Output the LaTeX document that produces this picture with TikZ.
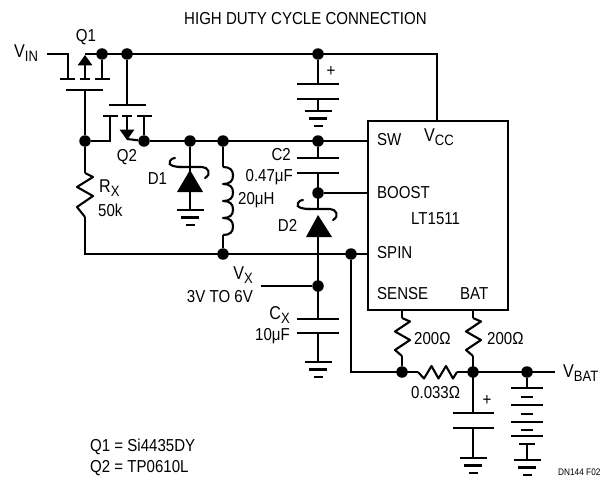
\documentclass[tikz,border=0pt]{standalone}
\usepackage{fontspec}
\setmainfont[FakeStretch=0.87]{Liberation Sans}
\usetikzlibrary{calc}
\tikzset{
  wire/.style={line width=2.1pt,line cap=butt,line join=miter},
  junction/.style={circle,fill=black,inner sep=0pt,minimum size=11.5pt},
  pt/.style={inner sep=0pt,minimum size=0pt},
  lbl/.style={inner sep=0pt,font=\fontsize{17.3}{17.3}\selectfont},
  lleft/.style={lbl,anchor=west},
  lright/.style={lbl,anchor=east},
  tiphead/.style={fill=black,draw=none}
}
\newcommand{\subs}[2]{\fontsize{18.5}{18.5}\selectfont #1\raisebox{-4pt}{\fontsize{15}{15}\selectfont #2}}
\newcommand{\vres}[1]{\draw[wire,line join=round] (#1) -- ++(8,3.5) -- ++(-15,10) -- ++(15,8.5) -- ++(-15,10) -- ++(7,6);}
\newcommand{\gnd}[1]{%
  \draw[wire] ($(#1)+(-13.5,0)$) -- ($(#1)+(13.5,0)$);
  \draw[wire] ($(#1)+(-9,7.5)$) -- ($(#1)+(9,7.5)$);
  \draw[wire] ($(#1)+(-4.5,15)$) -- ($(#1)+(4.5,15)$);}
\newcommand{\cathode}[1]{%
  \draw[wire,line cap=round] ($(#1)+(-8,7)$) .. controls ($(#1)+(-14,7)$) and ($(#1)+(-23,6)$) .. ($(#1)+(-20,1)$) .. controls ($(#1)+(-19,-1)$) and ($(#1)+(-17,-2)$) .. ($(#1)+(-15,-2)$);
  \draw[wire,line cap=round] ($(#1)+(-12,7)$) -- ($(#1)+(12,7)$) .. controls ($(#1)+(18,7)$) and ($(#1)+(22,14)$) .. ($(#1)+(15,18)$);}
\begin{document}
\begin{tikzpicture}[x=1pt,y=-1pt]
\useasboundingbox (0,0) rectangle (609,476);
% junctions
\node[junction] (j1) at (102,54) {};
\node[junction] (j2) at (127,54) {};
\node[junction] (j3) at (318,54) {};
\node[junction] (j4) at (85,141) {};
\node[junction] (j5) at (144,141) {};
\node[junction] (j6) at (190,141) {};
\node[junction] (j7) at (223,141) {};
\node[junction] (j8) at (318,141) {};
\node[junction] (j9) at (318,193) {};
\node[junction] (j10) at (223,254) {};
\node[junction] (j11) at (351,254) {};
\node[junction] (j12) at (318,286) {};
\node[junction] (j13) at (402,372) {};
\node[junction] (j14) at (473,372) {};
\node[junction] (j15) at (527,372) {};
% IC
\node[draw,line width=2.1pt,pt,minimum width=140pt,minimum height=189pt,anchor=north west] (ic) at (367,120) {};
% free coordinates
\coordinate (vin) at (47,54);
\coordinate (qa) at (68,54);
\coordinate (qb) at (68,79);
\coordinate (q1t) at (85,54);
\coordinate (q1g) at (85,90);
\coordinate (q1d) at (102,79);
\coordinate (q2g) at (127,105);
\coordinate (q2l) at (110,116);
\coordinate (q2lb) at (110,141);
\coordinate (q2r) at (144,116);
\coordinate (vcc) at (437,54);
\coordinate (vccb) at (437,120);
\coordinate (swr) at (367,141);
\coordinate (boostr) at (367,193);
\coordinate (spinr) at (367,254);
\coordinate (rxb) at (85,254);
\coordinate (rxzt) at (85,173);
\coordinate (rxzb) at (85,217);
\coordinate (c1a) at (318,84);
\coordinate (c1b) at (318,99);
\coordinate (c1g) at (318,111);
\coordinate (d1g) at (190,210);
\coordinate (lt) at (223,167);
\coordinate (lb) at (223,235);
\coordinate (c2a) at (318,158);
\coordinate (c2b) at (318,173);
\coordinate (d2k) at (318,209);
\coordinate (d2a) at (318,237);
\coordinate (cxa) at (318,319);
\coordinate (cxb) at (318,333);
\coordinate (cxg) at (318,362);
\coordinate (vx) at (261,286);
\coordinate (ssb) at (351,372);
\coordinate (senset) at (402,309);
\coordinate (senz) at (402,318);
\coordinate (senzb) at (402,356);
\coordinate (batt) at (473,309);
\coordinate (batz) at (473,318);
\coordinate (batzb) at (473,356);
\coordinate (rsa) at (418,372);
\coordinate (rsb) at (457,372);
\coordinate (vbat) at (555,372);
\coordinate (c3a) at (473,413);
\coordinate (c3b) at (473,428);
\coordinate (c3g) at (473,458);
\coordinate (bt) at (527,388);
\coordinate (bb) at (527,444);
\coordinate (bg) at (527,460);
% wires
\draw[wire] (vin) -- (qa) -- (qb);
\draw[wire] (q1t) -- (vcc) -- (vccb);
\draw[wire] (j1) -- (q1d);
\draw[wire] (j2) -- (q2g);
\draw[wire] (j3) -- (c1a);
\draw[wire] (c1b) -- (c1g);
\draw[wire] (q1g) -- (j4) -- (rxzt);
\draw[wire] (rxzb) -- (rxb) -- (spinr);
\draw[wire] (j4) -- (q2lb) -- (q2l);
\draw[wire] (q2r) -- (j5) -- (swr);
\draw[wire] (127,139) -- (j5);
\draw[wire] (j6) -- (d1g);
\draw[wire] (j7) -- (lt);
\draw[wire] (lb) -- (j10);
\draw[wire] (j8) -- (c2a);
\draw[wire] (c2b) -- (d2k);
\draw[wire] (j9) -- (boostr);
\draw[wire] (d2a) -- (cxa);
\draw[wire] (cxb) -- (cxg);
\draw[wire] (vx) -- (j12);
\draw[wire] (j11) |- (ssb) -- (rsa);
\draw[wire] (rsb) -- (vbat);
\draw[wire] (senset) -- (senz);
\draw[wire] (senzb) -- (j13);
\draw[wire] (batt) -- (batz);
\draw[wire] (batzb) -- (c3a);
\draw[wire] (c3b) -- (c3g);
\draw[wire] (j15) -- (bt);
\draw[wire] (bb) -- (bg);
% Q1
\draw[wire] (60,79) -- (75,79);
\draw[wire] (80,79) -- (90,79);
\draw[wire] (95,79) -- (110,79);
\draw[wire] (66,90) -- (103,90);
\draw[wire] (85,79) -- (85,60);
\fill[tiphead] (85,55) -- (92.5,65.5) -- (77.5,65.5) -- cycle;
% Q2
\draw[wire] (109,105) -- (146,105);
\draw[wire] (103,116) -- (118,116);
\draw[wire] (122,116) -- (132,116);
\draw[wire] (137,116) -- (152,116);
\draw[wire] (127,116) -- (127,132);
\fill[tiphead] (127,140) -- (134.5,129.5) -- (119.5,129.5) -- cycle;
% D1
\fill[tiphead] (190,170) -- (203,192) -- (177,192) -- cycle;
\cathode{190,160}
\gnd{d1g}
% Inductor
\draw[wire,line join=round] (lt)
  .. controls (230,167) and (233,170) .. (233,175.5) .. controls (233,181) and (230,184) .. (223,184)
  .. controls (230,184) and (233,187) .. (233,192.5) .. controls (233,198) and (230,201) .. (223,201)
  .. controls (230,201) and (233,204) .. (233,209.5) .. controls (233,215) and (230,218) .. (223,218)
  .. controls (230,218) and (233,221) .. (233,226.5) .. controls (233,232) and (230,235) .. (lb);
% C2
\draw[wire] (297,158) -- (339,158);
\draw[wire] (297,173) -- (339,173);
% D2
\fill[tiphead] (318,215) -- (332,237) -- (306,237) -- cycle;
\cathode{318,202}
% Cx
\draw[wire] (297,319) -- (339,319);
\draw[wire] (297,333) -- (339,333);
\gnd{cxg}
% C1 top
\draw[wire] (297,84) -- (339,84);
\draw[wire] (297,99) -- (339,99);
\gnd{c1g}
% resistors
\draw[wire,line join=round] (rxzt) -- ++(8,4) -- ++(-16,10) -- ++(16,9) -- ++(-16,11) -- (rxzb);
\vres{senz}
\vres{batz}
\draw[wire,line join=round] (rsa) -- ++(6,6.5) -- ++(7.5,-12.5) -- ++(7,12.5) -- ++(7.5,-12.5) -- ++(7,12.5) -- (rsb);
% C3
\draw[wire] (453,413) -- (494,413);
\draw[wire] (453,428) -- (494,428);
\gnd{c3g}
% Battery
\draw[wire] (511,388) -- (543,388);
\draw[wire] (521,397) -- (533,397);
\draw[wire] (511,405) -- (543,405);
\draw[wire] (521,414) -- (533,414);
\draw[wire] (511,422) -- (543,422);
\draw[wire] (521,430) -- (533,430);
\draw[wire] (511,436) -- (543,436);
\draw[wire] (519,444) -- (535,444);
\gnd{bg}
% labels
\node[lleft] (title) at (184,19) {HIGH DUTY CYCLE CONNECTION};
\node[lleft] (tvin) at (14,53) {\subs{V}{IN}};
\node[lbl] (tq1) at (86,37) {Q1};
\node[lbl] (tq2) at (127,157) {Q2};
\node[lbl] (td1) at (157.5,179) {D1};
\node[lbl] (td2) at (287.5,225) {D2};
\node[lleft] (trx) at (99,188) {\subs{R}{X}};
\node[lleft] (t50k) at (98,210) {50k};
\node[lright] (tc2) at (291,155) {C2};
\node[lright] (tc2v) at (293,177) {0.47μF};
\node[lleft] (tl) at (238,200) {20μH};
\node[lright] (tvx) at (253,275) {\subs{V}{X}};
\node[lright] (t3v) at (253,297) {3V TO 6V};
\node[lright] (tcx) at (290,315) {\subs{C}{X}};
\node[lright] (t10u) at (290,336) {10μF};
\node[lleft] (tsw) at (377,140) {SW};
\node[lleft] (tvcc) at (424,137) {\subs{V}{CC}};
\node[lleft] (tboost) at (377,193) {BOOST};
\node[lleft] (tlt) at (411,219) {LT1511};
\node[lleft] (tspin) at (377,253) {SPIN};
\node[lleft] (tsense) at (377,294) {SENSE};
\node[lleft] (tbat) at (460,294) {BAT};
\node[lleft] (tr1) at (414,339) {200Ω};
\node[lleft] (tr2) at (487,339) {200Ω};
\node[lleft] (trs) at (411,393) {0.033Ω};
\node[lleft] (tvbat) at (563,373) {\subs{V}{BAT}};
\node[lbl] (tp1) at (331,72) {+};
\node[lbl] (tp2) at (487,401) {+};
\node[lleft] (tq1n) at (90,447) {Q1 = Si4435DY};
\node[lleft] (tq2n) at (90,468) {Q2 = TP0610L};
\node[lleft,font=\fontsize{9.5}{9.5}\selectfont] (tdn) at (558,472) {DN144 F02};
\end{tikzpicture}
\end{document}
